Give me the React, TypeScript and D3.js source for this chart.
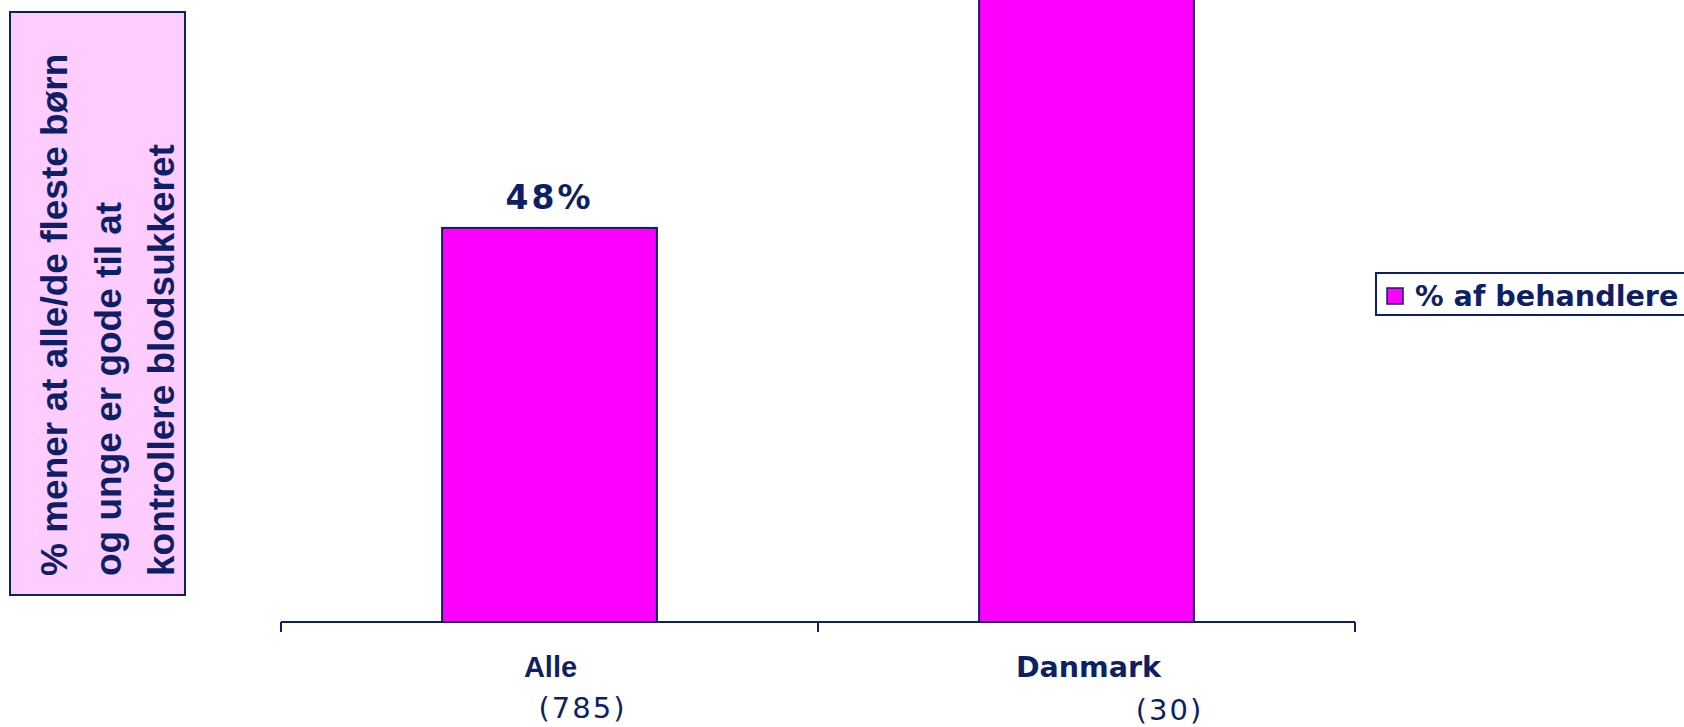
import React from "react";
import * as d3 from "d3";

const categories = ["Alle", "Danmark"];
const sampleSizes = ["(785)", "(30)"];
const values = [48, 83];
const seriesName = "% af behandlere";
const yTitleLines = [
  "% mener at alle/de fleste børn",
  "og unge er gode til at",
  "kontrollere blodsukkeret",
];

const W = 1684;
const H = 727;
const NAVY = "#0f1f66";
const BAR = "#ff00ff";

// layout offsets (not data)
const catLabelFonts = [
  { family: "'Liberation Sans', Arial, sans-serif", size: 29, dx: 1 },
  { family: "'DejaVu Sans', Verdana, sans-serif", size: 28.5, dx: 2 },
];
const countDx = [33, 83];
const countY = [718, 720];

export default function App() {
  const x = d3.scaleBand<string>().domain(categories).range([281, 1355]).padding(0);
  const y = d3.scaleLinear().domain([0, 100]).range([622, -199]);
  const bw = x.bandwidth();
  const barW = bw * 0.4;
  const tickXs = [...categories.map((c) => x(c)!), x.range()[1]];

  return (
    <svg
      width={W}
      height={H}
      style={{ position: "absolute", left: 0, top: 0, background: "#fff" }}
    >
      {/* Y title box */}
      <rect x={10} y={12} width={175} height={583} fill="#ffccff" stroke={NAVY} strokeWidth={2} />
      {yTitleLines.map((t, i) => (
        <text
          key={i}
          transform={`translate(${67 + i * 53.5},576) rotate(-90)`}
          fontFamily="'Liberation Sans', Arial, sans-serif"
          fontWeight="bold"
          fontSize={37}
          fill={NAVY}
        >
          {t}
        </text>
      ))}

      {/* bars */}
      {categories.map((c, i) => {
        const cx = x(c)! + bw / 2;
        const labelY = y(values[i]) - 19;
        return (
          <g key={c}>
            <rect
              x={cx - barW / 2}
              y={y(values[i])}
              width={barW}
              height={y(0) - y(values[i])}
              fill={BAR}
              stroke={NAVY}
              strokeWidth={2}
            />
            {labelY > 30 && (
              <text
                x={cx}
                y={labelY}
                textAnchor="middle"
                fontFamily="'DejaVu Sans', Verdana, sans-serif"
                fontWeight="bold"
                fontSize={33}
                letterSpacing={3}
                fill={NAVY}
              >
                {values[i]}%
              </text>
            )}
          </g>
        );
      })}

      {/* x axis */}
      <line x1={x.range()[0]} x2={x.range()[1]} y1={y(0)} y2={y(0)} stroke={NAVY} strokeWidth={2} />
      {tickXs.map((tx, i) => (
        <line key={i} x1={tx} x2={tx} y1={y(0)} y2={y(0) + 10} stroke={NAVY} strokeWidth={2} />
      ))}
      {categories.map((c, i) => {
        const cx = x(c)! + bw / 2;
        return (
          <g key={c}>
            <text
              x={cx + catLabelFonts[i].dx}
              y={677}
              textAnchor="middle"
              fontFamily={catLabelFonts[i].family}
              fontWeight="bold"
              fontSize={catLabelFonts[i].size}
              fill={NAVY}
            >
              {c}
            </text>
            <text
              x={cx + countDx[i]}
              y={countY[i]}
              textAnchor="middle"
              fontFamily="'DejaVu Sans', Verdana, sans-serif"
              fontSize={29}
              letterSpacing={2}
              fill={NAVY}
            >
              {sampleSizes[i]}
            </text>
          </g>
        );
      })}

      {/* legend */}
      <rect x={1376} y={273} width={330} height={42} fill="#fff" stroke={NAVY} strokeWidth={2} />
      <rect x={1387} y={288} width={16} height={16} fill={BAR} stroke={NAVY} strokeWidth={1.5} />
      <text
        x={1415}
        y={306}
        fontFamily="'DejaVu Sans', Verdana, sans-serif"
        fontWeight="bold"
        fontSize={28.6}
        fill={NAVY}
      >
        {seriesName}
      </text>
    </svg>
  );
}
